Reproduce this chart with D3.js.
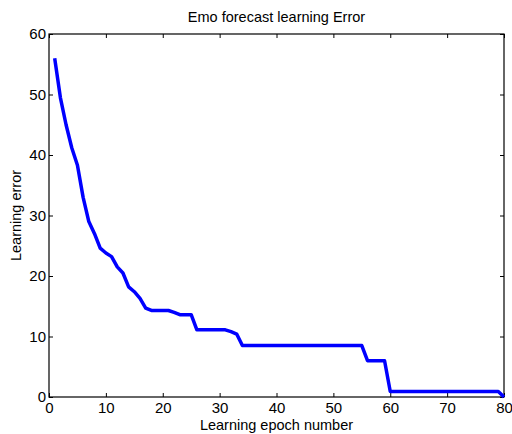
<!DOCTYPE html>
<html>
<head>
<meta charset="utf-8">
<script src="https://cdn.jsdelivr.net/npm/d3@7"></script>
<style>
  body { margin: 0; background: #fff; }
  text { font-family: "Liberation Sans", Arial, sans-serif; fill: #000; }
</style>
</head>
<body>
<div id="chart"></div>
<script>
// learning error per epoch (epochs 1..80)
const epochs = d3.range(1, 81);
const errors = [
  56, 49.5, 45, 41.2, 38.3, 33, 29, 27, 24.6, 23.8,
  23.2, 21.5, 20.5, 18.2, 17.4, 16.3, 14.7, 14.3, 14.3, 14.3,
  14.3, 14.0, 13.6, 13.6, 13.6, 11.1, 11.1, 11.1, 11.1, 11.1,
  11.1, 10.8, 10.4, 8.5, 8.5, 8.5, 8.5, 8.5, 8.5, 8.5,
  8.5, 8.5, 8.5, 8.5, 8.5, 8.5, 8.5, 8.5, 8.5, 8.5,
  8.5, 8.5, 8.5, 8.5, 8.5, 6, 6, 6, 6, 0.9,
  0.9, 0.9, 0.9, 0.9, 0.9, 0.9, 0.9, 0.9, 0.9, 0.9,
  0.9, 0.9, 0.9, 0.9, 0.9, 0.9, 0.9, 0.9, 0.9, 0
];
const xTicks = [0, 10, 20, 30, 40, 50, 60, 70, 80];
const yTicks = [0, 10, 20, 30, 40, 50, 60];

const width = 512;
const height = 434;
const margin = { top: 34, right: 8, bottom: 37, left: 49 };
const w = width - margin.left - margin.right;
const h = height - margin.top - margin.bottom;

const svg = d3.select('#chart')
  .append('svg')
  .attr('width', width)
  .attr('height', height);

const g = svg.append('g')
  .attr('transform', `translate(${margin.left},${margin.top})`);

const x = d3.scaleLinear().domain([0, 80]).range([0, w]);
const y = d3.scaleLinear().domain([0, 60]).range([h, 0]);

// axes, MATLAB style: ticks pointing in, box all round
const tickLen = 4;
const styleAxis = sel => {
  sel.select('.domain').remove();
  sel.selectAll('line').attr('stroke', '#000');
  sel.selectAll('text').style('font-size', '15px');
};

g.append('g')
  .attr('transform', `translate(0,${h})`)
  .call(d3.axisBottom(x).tickValues(xTicks).tickSizeInner(-tickLen).tickSizeOuter(0).tickPadding(5))
  .call(styleAxis);

g.append('g')
  .call(d3.axisLeft(y).tickValues(yTicks).tickSizeInner(-tickLen).tickSizeOuter(0).tickPadding(3))
  .call(styleAxis);

g.append('g')
  .call(d3.axisTop(x).tickValues(xTicks).tickSizeInner(-tickLen).tickSizeOuter(0).tickFormat(''))
  .call(styleAxis);

g.append('g')
  .attr('transform', `translate(${w},0)`)
  .call(d3.axisRight(y).tickValues(yTicks).tickSizeInner(-tickLen).tickSizeOuter(0).tickFormat(''))
  .call(styleAxis);

g.append('rect')
  .attr('width', w)
  .attr('height', h)
  .attr('fill', 'none')
  .attr('stroke', '#000')
  .attr('stroke-width', 1.2);

// the error curve
const line = d3.line()
  .x((d, i) => x(epochs[i]))
  .y(d => y(d));

g.append('path')
  .datum(errors)
  .attr('d', line)
  .attr('fill', 'none')
  .attr('stroke', '#0000ff')
  .attr('stroke-width', 3.5)
  .attr('stroke-linejoin', 'round');

// labels
svg.append('text')
  .attr('x', margin.left + w / 2)
  .attr('y', 22)
  .attr('text-anchor', 'middle')
  .style('font-size', '14.5px')
  .text('Emo forecast learning Error');

svg.append('text')
  .attr('x', margin.left + w / 2)
  .attr('y', 430)
  .attr('text-anchor', 'middle')
  .style('font-size', '14.5px')
  .text('Learning epoch number');

svg.append('text')
  .attr('transform', `translate(21,${margin.top + h / 2}) rotate(-90)`)
  .attr('text-anchor', 'middle')
  .style('font-size', '14.5px')
  .text('Learning error');
</script>
</body>
</html>
